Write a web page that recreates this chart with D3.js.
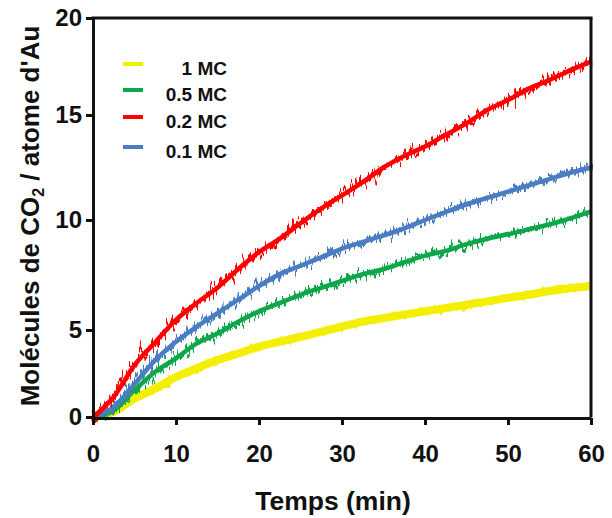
<!DOCTYPE html>
<html>
<head>
<meta charset="utf-8">
<script src="https://cdn.jsdelivr.net/npm/d3@7"></script>
<style>
  html, body { margin: 0; padding: 0; background: #ffffff; }
  svg { display: block; }
  text { font-family: "Liberation Sans", Arial, sans-serif; font-weight: bold; fill: #111; }
</style>
</head>
<body>
<svg id="chart" width="612" height="518"></svg>
<script>
// ---- data ----
const time = [0, 2.5, 5, 7.5, 10, 12.5, 15, 17.5, 20, 22.5, 25, 27.5, 30, 32.5, 35, 37.5, 40, 42.5, 45, 47.5, 50, 52.5, 55, 57.5, 60];
const mc1  = [0, 0.30, 1.06, 1.63, 2.30, 2.80, 3.27, 3.65, 4.04, 4.33, 4.60, 4.90, 5.15, 5.38, 5.54, 5.70, 5.85, 6.00, 6.15, 6.30, 6.46, 6.60, 6.77, 6.90, 7.00];
const mc05 = [0, 0.38, 1.54, 2.60, 3.37, 4.23, 4.80, 5.38, 5.85, 6.23, 6.60, 6.92, 7.23, 7.54, 7.77, 8.08, 8.38, 8.60, 8.90, 9.15, 9.35, 9.58, 9.80, 10.08, 10.40];
const mc02 = [0, 1.15, 2.98, 4.30, 5.46, 6.23, 6.92, 7.77, 8.54, 9.15, 9.85, 10.55, 11.17, 11.80, 12.50, 13.05, 13.50, 14.06, 14.60, 15.26, 15.77, 16.36, 16.80, 17.30, 17.75];
const mc01 = [0, 0.58, 1.90, 3.27, 4.33, 5.15, 5.77, 6.38, 7.00, 7.54, 7.92, 8.30, 8.70, 9.00, 9.30, 9.62, 10.00, 10.38, 10.75, 11.05, 11.35, 11.65, 11.95, 12.25, 12.50];
const seriesNames = ["1 MC", "0.5 MC", "0.2 MC", "0.1 MC"];
const seriesColors = ["#f4ef00", "#0fa64a", "#ff0000", "#4a7dc2"];
const xTicks = [0, 10, 20, 30, 40, 50, 60];
const yTicks = [0, 5, 10, 15, 20];
const xTitle = "Temps (min)";

// ---- scales ----
const svg = d3.select("#chart");
const x = d3.scaleLinear().domain([0, 60]).range([93, 591]);
// picture's y axis is slightly non-uniform; follow its tick positions
const y = d3.scaleLinear().domain([0, 5, 10, 15, 20]).range([417, 330, 220, 115, 18]);

// ---- noise-like filter (visual texture only) ----
const defs = svg.append("defs");
function roughFilter(id, freq, scale, seed) {
  const f = defs.append("filter").attr("id", id)
    .attr("x", "-5%").attr("y", "-10%").attr("width", "110%").attr("height", "120%");
  f.append("feTurbulence").attr("type", "fractalNoise")
    .attr("baseFrequency", freq).attr("numOctaves", 2).attr("seed", seed).attr("result", "n");
  f.append("feDisplacementMap").attr("in", "SourceGraphic").attr("in2", "n")
    .attr("scale", scale).attr("xChannelSelector", "R").attr("yChannelSelector", "G");
}
roughFilter("rough0", "0.3 0.05", 10, 3);
roughFilter("rough1", "0.45 0.03", 22, 5);
roughFilter("rough2", "0.45 0.03", 22, 7);
roughFilter("rough3", "0.45 0.03", 22, 11);

// ---- series ----
const allSeries = [mc1, mc05, mc01, mc02];
const colorIdx = [0, 1, 3, 2];
const coreW = [8, 4.5, 4.5, 4.5];
const roughW = [6, 4, 4, 4];
const line = d3.line().x((d, i) => x(time[i])).y(d => y(d)).curve(d3.curveMonotoneX);
allSeries.forEach((vals, k) => {
  const g = svg.append("g");
  g.append("path")
    .datum(vals)
    .attr("d", line)
    .attr("fill", "none")
    .attr("stroke", seriesColors[colorIdx[k]])
    .attr("stroke-width", coreW[k])
    .attr("stroke-linejoin", "round");
  g.append("path")
    .datum(vals)
    .attr("d", line)
    .attr("fill", "none")
    .attr("stroke", seriesColors[colorIdx[k]])
    .attr("stroke-width", roughW[k])
    .attr("stroke-linejoin", "round")
    .attr("filter", `url(#rough${k})`);
});

// ---- axes ----
const xAxis = svg.append("g").attr("transform", "translate(0,418)")
  .call(d3.axisBottom(x).tickValues(xTicks).tickSize(7).tickSizeOuter(0).tickPadding(20));
const yAxis = svg.append("g").attr("transform", "translate(93,0)")
  .call(d3.axisLeft(y).tickValues(yTicks).tickSize(7).tickSizeOuter(0).tickPadding(4));
[xAxis, yAxis].forEach(g => {
  g.select(".domain").attr("stroke", "#111").attr("stroke-width", 3);
  g.selectAll(".tick line").attr("stroke", "#111").attr("stroke-width", 3);
  g.selectAll(".tick text").attr("font-size", 24).attr("font-family", "Liberation Sans, Arial, sans-serif")
    .attr("font-weight", "bold").attr("fill", "#111");
});
xAxis.selectAll(".tick text").attr("dy", "0.71em");
// frame top & right
svg.append("line").attr("x1", x(0) - 1.5).attr("x2", x(60) + 1.5).attr("y1", y(20)).attr("y2", y(20))
  .attr("stroke", "#111").attr("stroke-width", 3);
svg.append("line").attr("x1", x(60)).attr("x2", x(60)).attr("y1", y(20)).attr("y2", y(0))
  .attr("stroke", "#111").attr("stroke-width", 3);

// ---- titles ----
svg.append("text").attr("x", 333).attr("y", 510).attr("text-anchor", "middle")
  .attr("font-size", 26.5).text(xTitle);
const yt = svg.append("text").attr("transform", "translate(39,216) rotate(-90)")
  .attr("text-anchor", "middle").attr("font-size", 26);
yt.append("tspan").text("Molécules de CO");
yt.append("tspan").attr("font-size", 16).attr("dy", 5).text("2");
yt.append("tspan").attr("dy", -5).text(" / atome d'Au");

// ---- legend ----
const legendRows = [0, 1, 2, 3];
const rowY = [68, 94, 121, 151];
legendRows.forEach(i => {
  svg.append("line").attr("x1", 123).attr("x2", 143).attr("y1", rowY[i] - 4).attr("y2", rowY[i] - 4)
    .attr("stroke", seriesColors[i]).attr("stroke-width", 4);
  svg.append("text").attr("x", 227).attr("y", rowY[i] + 7).attr("text-anchor", "end")
    .attr("font-size", 19).text(seriesNames[i]);
});
</script>
</body>
</html>
